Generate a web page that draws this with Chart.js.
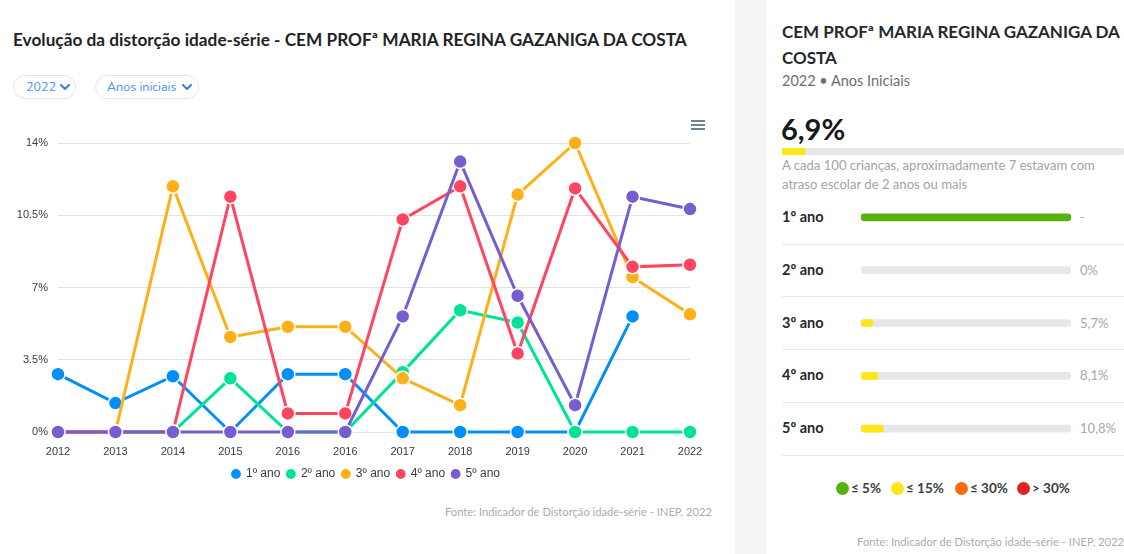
<!DOCTYPE html>
<html><head><meta charset="utf-8">
<script src="https://cdn.jsdelivr.net/npm/chart.js@4/dist/chart.umd.min.js"></script>
<style>
html,body{margin:0;padding:0;background:#fff;width:1124px;height:554px;overflow:hidden;font-family:Lato,"Open Sans",sans-serif;}
.abs{position:absolute;white-space:nowrap}
#title{left:13px;top:29px;font-size:17.25px;font-weight:700;color:#1f2328;}
.sel{position:absolute;top:75px;height:24px;box-sizing:border-box;border:1px solid #e2e6ec;border-radius:13px;color:#4d8ff5;font-size:12.5px;line-height:22px;font-family:Nunito,Lato,sans-serif}
.sel span{position:absolute;top:0}
.sel svg{position:absolute;top:8px}
#menu{left:691px;top:120px;width:14px;height:10px}
#menu div{height:1.6px;background:#6e8192;margin-bottom:2.6px}
#fonteL{left:445px;top:505px;font-size:11.2px;color:#a9acb1}
#band{left:735px;top:0;width:31px;height:554px;background:#f3f4f6}
#rtitle{left:782px;top:19px;font-size:17px;font-weight:700;color:#25282c;line-height:26px}
#rsub{left:782px;top:72px;font-size:14.5px;color:#6b6f75}
#big{left:781px;top:111px;font-size:29px;font-weight:700;color:#16181b}
#desc{left:782px;top:156px;font-size:13.1px;color:#a0a4aa;line-height:19px;white-space:normal;width:340px}
.rl{position:absolute;left:782px;font-size:14.5px;font-weight:700;color:#25282c}
.rv{position:absolute;left:1080px;font-size:13px;color:#a4a8ae}
.sep{position:absolute;left:782px;width:342px;height:1px;background:#e6e8eb}
.lg{position:absolute;top:480px;font-size:13.5px;font-weight:700;color:#3a3d42}
.dot{position:absolute;top:482px;width:13px;height:13px;border-radius:50%}
#fonteR{right:0px;top:535px;font-size:11.2px;color:#a9acb1}
</style></head><body>
<div id="title" class="abs">Evolução da distorção idade-série - CEM PROFª MARIA REGINA GAZANIGA DA COSTA</div>
<div class="sel" style="left:13px;width:63px"><span style="left:12px">2022</span><svg style="left:46px" width="10" height="7" viewBox="0 0 10 7"><polyline points="1,1 5,5 9,1" fill="none" stroke="#3a7de8" stroke-width="2" stroke-linecap="round" stroke-linejoin="round"/></svg></div>
<div class="sel" style="left:95px;width:104px"><span style="left:11px">Anos iniciais</span><svg style="left:86px" width="10" height="7" viewBox="0 0 10 7"><polyline points="1,1 5,5 9,1" fill="none" stroke="#3a7de8" stroke-width="2" stroke-linecap="round" stroke-linejoin="round"/></svg></div>
<div id="menu" class="abs"><div></div><div></div><div></div></div>
<div style="position:absolute;left:0;top:115px;width:730px;height:380px"><canvas id="c1"></canvas></div>
<div id="fonteL" class="abs">Fonte: Indicador de Distorção idade-série - INEP, 2022</div>
<div id="band" class="abs"></div>
<div id="rtitle" class="abs">CEM PROFª MARIA REGINA GAZANIGA DA<br>COSTA</div>
<div id="rsub" class="abs">2022 • Anos Iniciais</div>
<div id="big" class="abs"></div>
<div style="position:absolute;left:782px;top:148px;width:342px;height:7px"><canvas id="c2"></canvas></div>
<div id="desc" class="abs"></div>
<div id="rows"></div>
<div style="position:absolute;left:861px;top:191px;width:210px;height:264px"><canvas id="c3"></canvas></div>
<div id="rleg"></div>
<div id="fonteR" class="abs">Fonte: Indicador de Distorção idade-série - INEP, 2022</div>
<script>
// ---- data ----
const years = ['2012','2013','2014','2015','2016','2016','2017','2018','2019','2020','2021','2022'];
const seriesNames = ['1º ano','2º ano','3º ano','4º ano','5º ano'];
const ano1 = [2.8,1.4,2.7,0,2.8,2.8,0,0,0,0,5.6,null];
const ano2 = [0,0,0,2.6,0,0,2.9,5.9,5.3,0,0,0];
const ano3 = [0,0,11.9,4.6,5.1,5.1,2.6,1.3,11.5,14.0,7.5,5.7];
const ano4 = [0,0,0,11.4,0.9,0.9,10.3,11.9,3.8,11.8,8.0,8.1];
const ano5 = [0,0,0,0,0,0,5.6,13.1,6.6,1.3,11.4,10.8];
const yTicks = [0,3.5,7,10.5,14];
const totalRate = 6.9;
const rowValues = [null,0,5.7,8.1,10.8];
const bandLabels = ['≤ 5%','≤ 15%','≤ 30%','> 30%'];
const bandLimits = [5,15,30,Infinity];

// ---- styles ----
const colors = ['#008FFB','#00E396','#FEB019','#FF4560','#775DD0'];
const bandColors = ['#56b30e','#fde619','#ff6a0a','#e02424'];
const fmt = v => String(v).replace('.',',') + '%';
const bandColor = v => bandColors[bandLimits.findIndex(l => v <= l)];

Chart.defaults.font.family = '"Liberation Sans", Arial, sans-serif';
Chart.defaults.color = '#373d3f';

const legendShift = {
  id: 'legendShift',
  afterLayout(chart) { const l = chart.legend; if (l) { l.left += 21; l.right += 21; } }
};

const all = [ano1,ano2,ano3,ano4,ano5];
new Chart(document.getElementById('c1'), {
  type: 'line',
  data: {
    labels: years,
    datasets: all.map((d,i) => ({
      label: seriesNames[i], data: d, borderColor: colors[i], backgroundColor: colors[i],
      borderWidth: 3, pointRadius: 7, pointHoverRadius: 7, pointBorderColor: '#fff', pointBorderWidth: 1.5,
      pointBackgroundColor: colors[i], tension: 0, clip: false, order: all.length - i, spanGaps: false
    }))
  },
  options: {
    responsive: true, maintainAspectRatio: false, animation: false,
    layout: { padding: { top: 28, left: 0, right: 40, bottom: 5 } },
    plugins: {
      tooltip: { enabled: false },
      legend: { position: 'bottom', labels: { usePointStyle: true, pointStyle: 'circle', boxWidth: 8, boxHeight: 8, padding: 6.5,
        font: { size: 12 }, sort: (a,b) => a.datasetIndex - b.datasetIndex } }
    },
    scales: {
      x: { grid: { display: false, drawTicks: false }, border: { display: false }, ticks: { padding: 13, font: { size: 11 }, autoSkip: false, maxRotation: 0 },
        afterFit: s => { s.height = 29.5; } },
      y: { min: 0, max: 14, grid: { color: '#e3e3e3', drawTicks: false }, border: { display: false },
        afterBuildTicks: s => { s.ticks = yTicks.map(v => ({ value: v })); },
        ticks: { padding: 10, font: { size: 11 }, callback: v => v + '%' },
        afterFit: s => { s.width = 58; } }
    }
  },
  plugins: [legendShift]
});

// right panel text
document.getElementById('big').textContent = fmt(totalRate);
document.getElementById('desc').textContent = 'A cada 100 crianças, aproximadamente ' + Math.round(totalRate) + ' estavam com atraso escolar de 2 anos ou mais';
const rowsEl = document.getElementById('rows');
const pitch = 52.75, first = 217;
rowValues.forEach((v,i) => {
  const y = first + i*pitch;
  rowsEl.insertAdjacentHTML('beforeend',
    `<div class="rl" style="top:${y-9}px">${seriesNames[i]}</div>` +
    `<div class="rv" style="top:${y-8}px">${v === null ? '-' : fmt(v)}</div>` +
    `<div class="sep" style="top:${Math.round(y+26.5)}px"></div>`);
});
const legEl = document.getElementById('rleg');
const legX = [842, 897, 961, 1023];
bandLabels.forEach((t,i) => {
  legEl.insertAdjacentHTML('beforeend',
    `<div class="dot" style="left:${legX[i]-6.5}px;background:${bandColors[i]}"></div><div class="lg" style="left:${legX[i]+9}px">${t}</div>`);
});

// total bar
new Chart(document.getElementById('c2'), {
  type: 'bar',
  data: { labels: ['total'], datasets: [
    { data: [totalRate], backgroundColor: bandColor(totalRate), barThickness: 7, borderRadius: 4, borderSkipped: false },
    { data: [100], backgroundColor: '#e5e7eb', barThickness: 7, borderRadius: 4, borderSkipped: false }
  ] },
  options: { indexAxis: 'y', responsive: true, maintainAspectRatio: false, animation: false,
    datasets: { bar: { grouped: false } },
    plugins: { legend: { display: false }, tooltip: { enabled: false } },
    layout: { padding: 0 },
    scales: { x: { display: false, min: 0, max: 100 }, y: { display: false } } }
});

// per-grade bars
new Chart(document.getElementById('c3'), {
  type: 'bar',
  data: { labels: seriesNames, datasets: [
    { data: rowValues.map(v => v ? v : null), backgroundColor: rowValues.map(v => v ? bandColor(v) : 'rgba(0,0,0,0)'), barThickness: 7, borderRadius: 4, borderSkipped: false },
    { data: rowValues.map(() => 100), backgroundColor: rowValues.map(v => v === null ? bandColors[0] : '#e5e7eb'), barThickness: 7, borderRadius: 4, borderSkipped: false }
  ] },
  options: { indexAxis: 'y', responsive: true, maintainAspectRatio: false, animation: false,
    datasets: { bar: { grouped: false } },
    plugins: { legend: { display: false }, tooltip: { enabled: false } },
    layout: { padding: 0 },
    scales: { x: { display: false, min: 0, max: 100 }, y: { display: false } } }
});
</script>
</body></html>
